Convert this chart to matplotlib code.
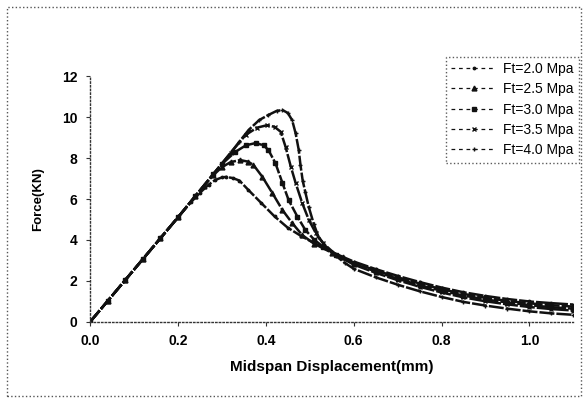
import matplotlib
matplotlib.use('Agg')
import matplotlib.pyplot as plt
from matplotlib.patches import Rectangle

plt.rcParams['font.family'] = ['Liberation Sans', 'DejaVu Sans']

# Midspan displacement (mm) / force (kN)
x_20 = [0.0, 0.04, 0.08, 0.12, 0.16, 0.20, 0.23, 0.25, 0.27, 0.285, 0.30, 0.31, 0.325,
        0.34, 0.36, 0.39, 0.42, 0.45, 0.48, 0.51, 0.55, 0.575,
        0.60, 0.65, 0.70, 0.75, 0.80, 0.85, 0.90, 0.95, 1.00, 1.05, 1.10]
y_20 = [0.0, 1.02, 2.04, 3.06, 4.08, 5.1, 5.85, 6.3, 6.7, 6.93, 7.05, 7.08, 7.02,
        6.9, 6.45, 5.8, 5.15, 4.6, 4.2, 3.85, 3.42, 3.18,
        2.95, 2.58, 2.25, 1.95, 1.68, 1.45, 1.27, 1.12, 1.00, 0.92, 0.85]

x_25 = [0.0, 0.04, 0.08, 0.12, 0.16, 0.20, 0.24, 0.26, 0.28, 0.30, 0.32, 0.342, 0.36,
        0.372, 0.392, 0.415, 0.438, 0.46, 0.483, 0.51, 0.55, 0.575,
        0.60, 0.65, 0.70, 0.75, 0.80, 0.85, 0.90, 0.95, 1.00, 1.05, 1.10]
y_25 = [0.0, 1.02, 2.04, 3.06, 4.08, 5.1, 6.15, 6.65, 7.15, 7.55, 7.8, 7.9, 7.82,
        7.66, 7.09, 6.29, 5.46, 4.83, 4.24, 3.82, 3.38, 3.15,
        2.90, 2.52, 2.18, 1.88, 1.60, 1.37, 1.18, 1.03, 0.91, 0.82, 0.75]

x_30 = [0.0, 0.04, 0.08, 0.12, 0.16, 0.20, 0.24, 0.28, 0.30, 0.33, 0.355, 0.377, 0.395,
        0.406, 0.422, 0.438, 0.452, 0.472, 0.49, 0.51, 0.53, 0.56,
        0.60, 0.65, 0.70, 0.75, 0.80, 0.85, 0.90, 0.95, 1.00, 1.05, 1.10]
y_30 = [0.0, 1.02, 2.04, 3.06, 4.08, 5.1, 6.15, 7.2, 7.7, 8.29, 8.62, 8.73, 8.62,
        8.39, 7.75, 6.78, 5.95, 5.14, 4.49, 4.02, 3.68, 3.28,
        2.85, 2.46, 2.11, 1.80, 1.52, 1.29, 1.10, 0.95, 0.82, 0.72, 0.65]

x_35 = [0.0, 0.04, 0.08, 0.12, 0.16, 0.20, 0.24, 0.28, 0.32, 0.354, 0.38, 0.403, 0.42,
        0.434, 0.445, 0.457, 0.468, 0.483, 0.498, 0.514, 0.53, 0.56,
        0.60, 0.65, 0.70, 0.75, 0.80, 0.85, 0.90, 0.95, 1.00, 1.05, 1.10]
y_35 = [0.0, 1.02, 2.04, 3.06, 4.08, 5.1, 6.15, 7.2, 8.25, 9.12, 9.48, 9.6, 9.52,
        9.28, 8.55, 7.58, 6.78, 5.8, 4.98, 4.33, 3.85, 3.28,
        2.80, 2.40, 2.04, 1.72, 1.44, 1.20, 1.01, 0.86, 0.73, 0.63, 0.56]

x_40 = [0.0, 0.04, 0.08, 0.12, 0.16, 0.20, 0.24, 0.28, 0.32, 0.34, 0.361, 0.385, 0.406,
        0.425, 0.438, 0.45, 0.46, 0.468, 0.475, 0.479, 0.484, 0.49, 0.498, 0.509,
        0.52, 0.54, 0.56, 0.58,
        0.60, 0.65, 0.70, 0.75, 0.80, 0.85, 0.90, 0.95, 1.00, 1.05, 1.10]
y_40 = [0.0, 1.02, 2.04, 3.06, 4.08, 5.1, 6.15, 7.2, 8.25, 8.8, 9.37, 9.85, 10.1,
        10.3, 10.34, 10.2, 9.85, 9.2, 8.4, 7.66, 6.9, 6.34, 5.6, 4.8,
        4.15, 3.6, 3.22, 2.88,
        2.60, 2.18, 1.82, 1.50, 1.22, 0.98, 0.80, 0.65, 0.52, 0.42, 0.35]

labels = ['Ft=2.0 Mpa', 'Ft=2.5 Mpa', 'Ft=3.0 Mpa', 'Ft=3.5 Mpa', 'Ft=4.0 Mpa']
xs = [x_20, x_25, x_30, x_35, x_40]
ys = [y_20, y_25, y_30, y_35, y_40]
markers = ['.', '^', 's', 'x', '+']

fig = plt.figure(figsize=(5.83, 3.98), dpi=100)
ax = fig.add_axes([0.1544, 0.191, 0.829, 0.618])

for x, y, m, lab in zip(xs, ys, markers, labels):
  ax.plot(x, y, linestyle='--', dashes=(6, 0.8), color='#111111', linewidth=1.8,
          marker=m, markersize=3.5, markeredgewidth=1.0, label=lab)

ax.set_xlim(0, 1.1)
ax.set_ylim(0, 12)
ax.set_xticks([0.0, 0.2, 0.4, 0.6, 0.8, 1.0])
ax.set_xticklabels(['0.0', '0.2', '0.4', '0.6', '0.8', '1.0'])
ax.set_yticks([0, 2, 4, 6, 8, 10, 12])

for side in ['top', 'right']:
  ax.spines[side].set_visible(False)
for side in ['left', 'bottom']:
  ax.spines[side].set_linestyle(':')
  ax.spines[side].set_linewidth(1.0)
  ax.spines[side].set_color('#333333')

ax.tick_params(axis='both', direction='out', length=3, width=0.8, color='#333333',
               labelsize=10, pad=6)
for t in ax.get_xticklabels() + ax.get_yticklabels():
  t.set_fontweight('bold')

ax.set_xlabel('Midspan Displacement(mm)', fontsize=11, fontweight='bold', labelpad=8)
ax.set_ylabel('Force(KN)', fontsize=9.5, fontweight='bold', labelpad=13)

# legend sits partly above the axes in the original, so anchor it to the figure
leg = fig.legend(loc='upper right', bbox_to_anchor=(0.993, 0.858), fontsize=10,
                 frameon=True, fancybox=False, handlelength=3.2, handletextpad=0.5,
                 labelspacing=0.45, borderpad=0.4, borderaxespad=0)
leg.get_frame().set_edgecolor('#333333')
leg.get_frame().set_linestyle(':')
leg.get_frame().set_linewidth(1.0)
for line in leg.get_lines():
  line.set_linewidth(0.9)
  line.set_dashes((3, 3))

# dotted page border from the scan
fig.patches.append(Rectangle((0.012, 0.005), 0.985, 0.978, transform=fig.transFigure,
                             fill=False, linestyle=':', linewidth=1.0, edgecolor='#555555'))

fig.savefig('out.png', dpi=100)
